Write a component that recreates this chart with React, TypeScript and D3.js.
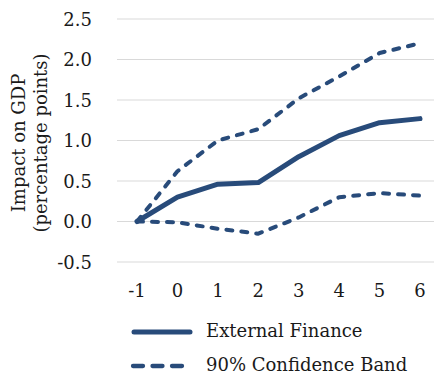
import React from "react";
import * as d3 from "d3";

const categories = ["-1", "0", "1", "2", "3", "4", "5", "6"];
const externalFinance = [0, 0.3, 0.46, 0.48, 0.8, 1.06, 1.22, 1.27];
const upperBand = [0, 0.62, 1.0, 1.14, 1.52, 1.79, 2.08, 2.2];
const lowerBand = [0, -0.01, -0.09, -0.15, 0.05, 0.3, 0.35, 0.32];
const yTicks = [-0.5, 0, 0.5, 1.0, 1.5, 2.0, 2.5];
const legendLabels = ["External Finance", "90% Confidence Band"];

const W = 434;
const H = 378;
const COLOR = "#284b7a";
const FONT = "'DejaVu Serif', serif";
const FS = 18;

export default function App() {
  const x = d3.scalePoint<string>().domain(categories).range([137, 420]);
  const y = d3.scaleLinear().domain([-0.5, 2.5]).range([262, 19]);
  const line = d3
    .line<number>()
    .x((_, i) => x(categories[i]) as number)
    .y((d) => y(d));
  const fmt = (t: number) => d3.format(".1f")(t).replace("\u2212", "-");

  return (
    <svg
      width={W}
      height={H}
      style={{ position: "absolute", left: 0, top: 0, background: "#fff" }}
      fontFamily={FONT}
    >
      <rect x={0} y={0} width={W} height={H} fill="#fff" />
      {yTicks.map((t) => (
        <g key={t}>
          <line x1={117} x2={434} y1={y(t)} y2={y(t)} stroke="#d9d9d9" strokeWidth={1.2} />
          <text x={92} y={y(t) + 6.5} textAnchor="end" fontSize={FS} fill="#1a1a1a">
            {fmt(t)}
          </text>
        </g>
      ))}
      {categories.map((c) => (
        <text key={c} x={x(c)} y={297} textAnchor="middle" fontSize={FS} fill="#1a1a1a">
          {c}
        </text>
      ))}
      <g transform="translate(25,143) rotate(-90)">
        <text x={0} y={0} textAnchor="middle" fontSize={FS} fill="#1a1a1a">
          Impact on GDP
        </text>
        <text x={0} y={22} textAnchor="middle" fontSize={FS} fill="#1a1a1a">
          (percentage points)
        </text>
      </g>
      <path
        d={line(upperBand) || ""}
        fill="none"
        stroke={COLOR}
        strokeWidth={4}
        strokeDasharray="6 9"
        strokeLinecap="round"
        strokeLinejoin="round"
      />
      <path
        d={line(lowerBand) || ""}
        fill="none"
        stroke={COLOR}
        strokeWidth={4}
        strokeDasharray="6 9"
        strokeLinecap="round"
        strokeLinejoin="round"
      />
      <path
        d={line(externalFinance) || ""}
        fill="none"
        stroke={COLOR}
        strokeWidth={5}
        strokeLinecap="round"
        strokeLinejoin="round"
      />
      <line x1={134} x2={190} y1={332} y2={332} stroke={COLOR} strokeWidth={5} strokeLinecap="round" />
      <text x={206} y={337} fontSize={FS} fill="#1a1a1a">
        {legendLabels[0]}
      </text>
      <line
        x1={133}
        x2={184}
        y1={366}
        y2={366}
        stroke={COLOR}
        strokeWidth={4.3}
        strokeDasharray="10 9.5"
        strokeLinecap="round"
      />
      <text x={206} y={371} fontSize={FS} fill="#1a1a1a">
        {legendLabels[1]}
      </text>
    </svg>
  );
}
